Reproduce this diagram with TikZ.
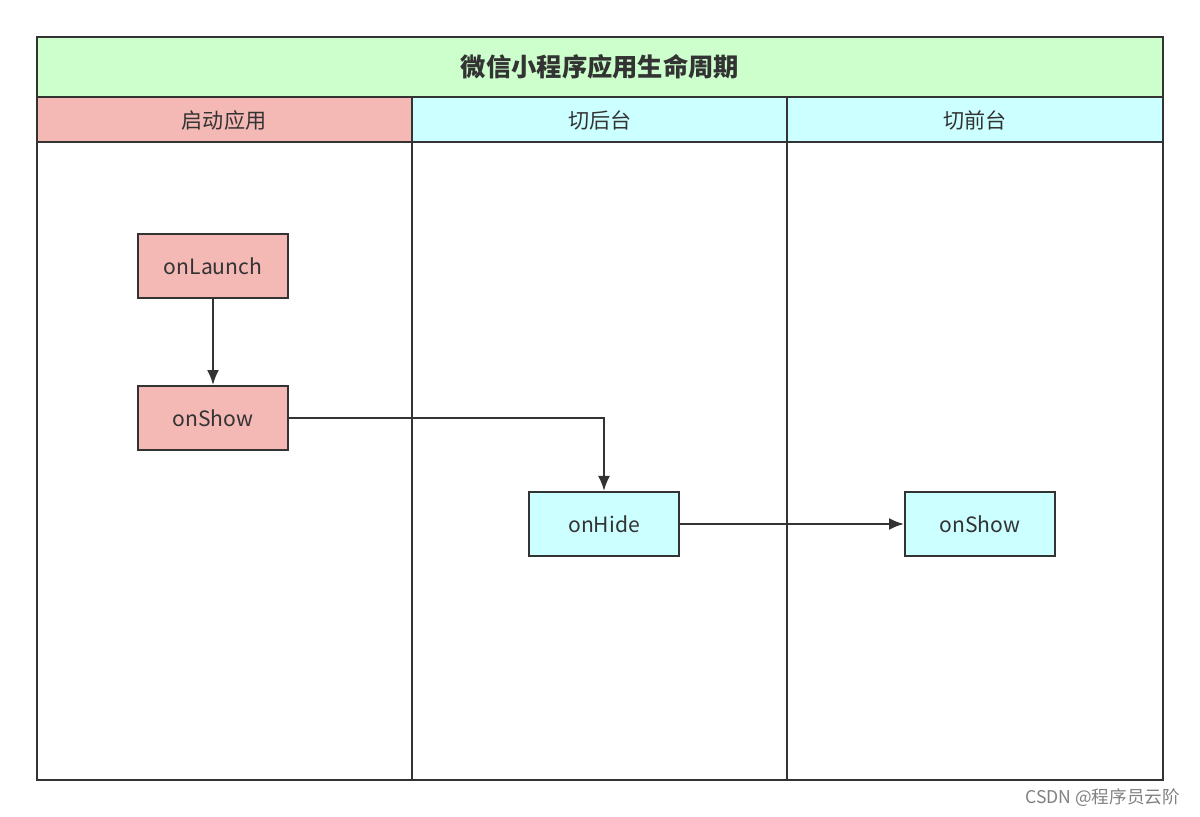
\documentclass[tikz,border=0pt]{standalone}
\usepackage{fontspec}
\setmainfont{Noto Sans CJK SC}
\usetikzlibrary{positioning}
\usetikzlibrary{arrows.meta}
\definecolor{lanered}{HTML}{F4B8B5}
\definecolor{lanecyan}{HTML}{CCFFFF}
\definecolor{titlegreen}{HTML}{CCFFCC}
\definecolor{edge}{HTML}{333333}
\begin{document}
\begin{tikzpicture}[
    x=0.02cm,y=-0.02cm,
    lane/.style={draw=edge,thick},
    hook/.style={rectangle,draw=edge,very thick,minimum width=3cm,minimum height=1.28cm,font=\large,text=edge},
    arr/.style={very thick,draw=edge,-{Latex[length=3mm,width=2.4mm]}}
    ]
    \useasboundingbox (0,0) rectangle (1200,817);
    % title and lane headers
    \filldraw[lane,fill=titlegreen] (37,37) rectangle (1163,97);
    \node (title) at (600,67) {\bfseries\Large\textcolor{edge}{微信小程序应用生命周期}};
    \filldraw[lane,fill=lanered] (37,97) rectangle (412,142);
    \filldraw[lane,fill=lanecyan] (412,97) rectangle (787,142);
    \filldraw[lane,fill=lanecyan] (787,97) rectangle (1163,142);
    \node (h1) at (224,120) {\large\textcolor{edge}{启动应用}};
    \node (h2) at (600,120) {\large\textcolor{edge}{切后台}};
    \node (h3) at (975,120) {\large\textcolor{edge}{切前台}};
    \draw[lane] (37,142) rectangle (412,780);
    \draw[lane] (412,142) rectangle (787,780);
    \draw[lane] (787,142) rectangle (1163,780);
    % hooks
    \node (launch) [hook,fill=lanered] at (213,266) {onLaunch};
    \node (show) [hook,fill=lanered,below=1.72cm of launch] {onShow};
    \node (hide) [hook,fill=lanecyan] at (604,524) {onHide};
    \node (show2) [hook,fill=lanecyan,right=4.48cm of hide] {onShow};
    \draw[arr] (launch) -- (show);
    \draw[arr] (show) -| (hide);
    \draw[arr] (hide) -- (show2);
    \node (mark) [anchor=east,text=gray] at (1186,798) {CSDN @程序员云阶};
\end{tikzpicture}
\end{document}
